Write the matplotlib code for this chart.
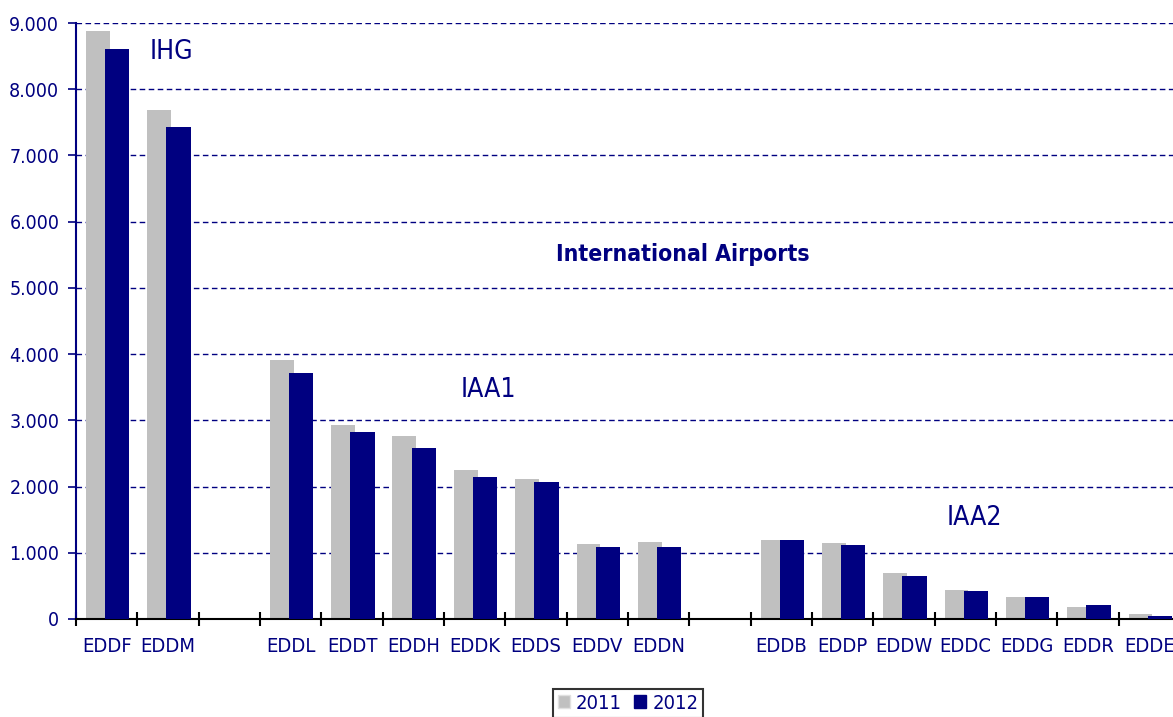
import numpy as np
import matplotlib.pyplot as plt
from matplotlib.patches import Patch

# airports per group (IHG, IAA1, IAA2), one empty slot between groups
ihg = ['EDDF', 'EDDM']
iaa1 = ['EDDL', 'EDDT', 'EDDH', 'EDDK', 'EDDS', 'EDDV', 'EDDN']
iaa2 = ['EDDB', 'EDDP', 'EDDW', 'EDDC', 'EDDG', 'EDDR', 'EDDE']

vals_2011 = [8880, 7690,
             3910, 2930, 2760, 2250, 2110, 1130, 1160,
             1190, 1140, 690, 440, 330, 180, 80]
vals_2012 = [8610, 7430,
             3720, 2820, 2580, 2140, 2070, 1090, 1090,
             1190, 1120, 650, 420, 330, 210, 50]

years = ['2011', '2012']
navy = '#000080'
grey = '#c0c0c0'

plt.rcParams['font.family'] = ['DejaVu Sans']
plt.rcParams['font.stretch'] = 'condensed'

# slot positions with a gap between the groups
airports = ihg + iaa1 + iaa2
pos = []
start = 0
for grp in [ihg, iaa1, iaa2]:
    pos += list(range(start, start + len(grp)))
    start += len(grp) + 1
pos = np.array(pos)
n_slots = start - 1

fig = plt.figure(figsize=(11.73, 7.17), dpi=100)
ax = fig.add_axes([0.0648, 0.1367, 0.9412, 0.8312])

ax.bar(pos - 0.34, vals_2011, width=0.39, align='edge', color=grey, zorder=2)
ax.bar(pos - 0.03, vals_2012, width=0.40, align='edge', color=navy, zorder=3)

ax.set_xlim(-0.5, n_slots - 0.5)
ax.set_ylim(0, 9000)
ax.set_yticks(np.arange(0, 9001, 1000))
ax.set_yticklabels([f'{v:,}'.replace(',', '.') for v in range(0, 9001, 1000)])
ax.yaxis.grid(True, color=navy, linestyle=(0, (4, 2.5)), linewidth=1.0, zorder=1)

# tick marks on slot boundaries, labels in slot centres
ax.set_xticks(np.arange(-0.5, n_slots, 1.0))
ax.set_xticklabels([])
ax.set_xticks(pos, minor=True)
ax.set_xticklabels(airports, minor=True)
ax.tick_params(axis='x', which='major', direction='inout', length=10, width=1.5, color='black')
ax.tick_params(axis='x', which='minor', length=0, pad=13, labelsize=14.5, labelcolor=navy)
ax.tick_params(axis='y', direction='out', length=6, width=1.2, color=navy, labelsize=14,
               labelcolor=navy, pad=6)

for s in ['top', 'right']:
    ax.spines[s].set_visible(False)
ax.spines['left'].set_color(navy)
ax.spines['left'].set_linewidth(1.5)
ax.spines['bottom'].set_color('black')
ax.spines['bottom'].set_linewidth(1.5)

ax.text(1.05, 8560, 'IHG', color=navy, fontsize=19, ha='center', va='center')
ax.text(9.4, 5500, 'International Airports', color=navy, fontsize=16.5, fontweight='bold',
        ha='center', va='center')
ax.text(6.22, 3460, 'IAA1', color=navy, fontsize=19, ha='center', va='center')
ax.text(14.14, 1530, 'IAA2', color=navy, fontsize=19, ha='center', va='center')

handles = [Patch(facecolor=grey, edgecolor='#e0e0e0'), Patch(facecolor=navy, edgecolor=navy)]
leg = ax.legend(handles, years, loc='upper center', bbox_to_anchor=(0.5, -0.1), ncol=2,
                frameon=True, fancybox=False, edgecolor='black', fontsize=14.5,
                handlelength=0.6, handleheight=0.6, handletextpad=0.3, columnspacing=0.6,
                borderpad=0.25, labelcolor=navy)
leg.get_frame().set_linewidth(1.5)

fig.savefig('out.png', dpi=100)
